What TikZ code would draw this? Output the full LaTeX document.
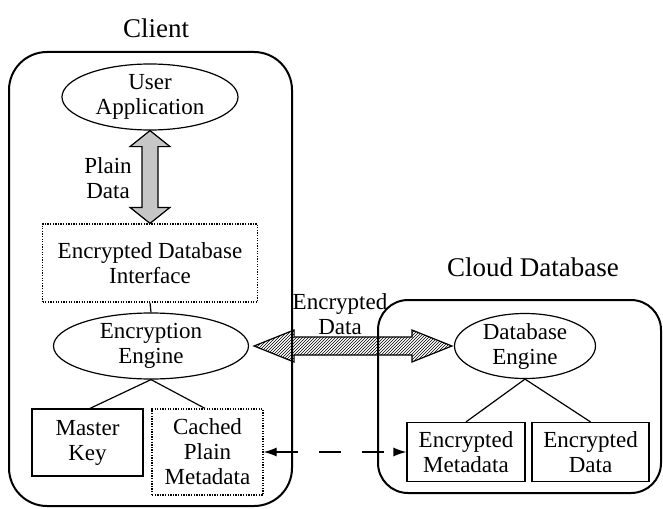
\documentclass[tikz,border=0pt]{standalone}
\usepackage{fontspec}
\setmainfont{Liberation Serif}
\usetikzlibrary{shapes.geometric,patterns,calc,arrows.meta}
\begin{document}
\begin{tikzpicture}[x=1pt,y=-1pt,
  font=\fontsize{23}{25}\selectfont,
  ell/.style={draw, ellipse, line width=1.2pt, inner sep=0pt, align=center},
  sbox/.style={draw, rectangle, line width=1.2pt, inner sep=0pt, align=center},
  dbox/.style={sbox, dash pattern=on 1.3pt off 1.3pt},
  titletext/.style={font=\fontsize{27}{30}\selectfont},
  region/.style={draw, line width=2pt, inner sep=0pt},
  link/.style={line width=1.2pt},
  dashlink/.style={line width=1.2pt, dash pattern=on 22pt off 21pt, {Latex[length=13pt,width=9pt]}-{Latex[length=13pt,width=9pt]}},
  plainarrow/.style={draw, line width=1.2pt, fill=gray!45},
  hatcharrow/.style={draw, line width=1.2pt, preaction={fill=white}, pattern=north east lines},
  lbl/.style={align=center, inner sep=0pt}
]
\useasboundingbox (0,0) rectangle (663,508);

% titles
\node[titletext] (tclient) at (156,28) {Client};
\node[titletext] (tcloud) at (533,267) {Cloud Database};

% client side
\node[ell, minimum width=176pt, minimum height=66pt] (ua) at (150,97) {User\\Application};
\node[dbox, minimum width=215pt, minimum height=78pt] (edi) at (150,263) {Encrypted Database\\Interface};
\node[ell, minimum width=195pt, minimum height=66pt] (ee) at (151,346) {Encryption\\Engine};
\node[sbox, minimum width=111pt, minimum height=67pt] (mk) at (87.5,442.5) {Master\\Key};
\node[dbox, minimum width=111pt, minimum height=86pt] (cm) at (207.5,452) {Cached\\Plain\\Metadata};

% cloud side
\node[ell, minimum width=141pt, minimum height=65pt] (de) at (525,346) {Database\\Engine};
\node[sbox, minimum width=118pt, minimum height=59pt] (em) at (466,452) {Encrypted\\Metadata};
\node[sbox, minimum width=117pt, minimum height=59pt] (ed) at (590.5,452) {Encrypted\\Data};

% labels
\node[lbl] (lplain) at (108,178) {Plain\\Data};
\node[lbl] (lenc) at (340,314) {Encrypted\\Data};

% plain data double arrow
\path[plainarrow] (ua.south) -- ++(20,16) -- ++(-12,0) -- ($(edi.north)+(8,-16)$) -- ++(12,0)
  -- (edi.north) -- ++(-20,-16) -- ++(12,0) -- ($(ua.south)+(-8,16)$) -- ++(-12,0) -- cycle;

% encrypted data double arrow (hatched)
\path[hatcharrow] ($(ee.east)+(5,0)$) -- ++(40,-16) -- ++(0,7) -- ($(de.west)+(-42,-9)$) -- ++(0,-7)
  -- ($(de.west)+(-2,0)$) -- ++(-40,16) -- ++(0,-7) -- ($(ee.east)+(45,9)$) -- ++(0,7) -- cycle;

% region boxes
\node[region, rounded corners=38pt, minimum width=283pt, minimum height=454pt] (client) at (150.5,279) {};
\node[region, rounded corners=30pt, minimum width=283pt, minimum height=193pt] (cloud) at (519.5,396.5) {};

% links
\draw[link] (edi.south) -- (ee.north);
\draw[link] (ee.south) -- ($(mk.north)+(2.5,0)$);
\draw[link] (ee.south) -- ($(cm.north)+(-2.5,0)$);
\draw[link] (de.south) -- (em.north);
\draw[link] (de.south) -- (ed.north);
\draw[dashlink] (cm.east) -- (em.west);
\end{tikzpicture}
\end{document}
